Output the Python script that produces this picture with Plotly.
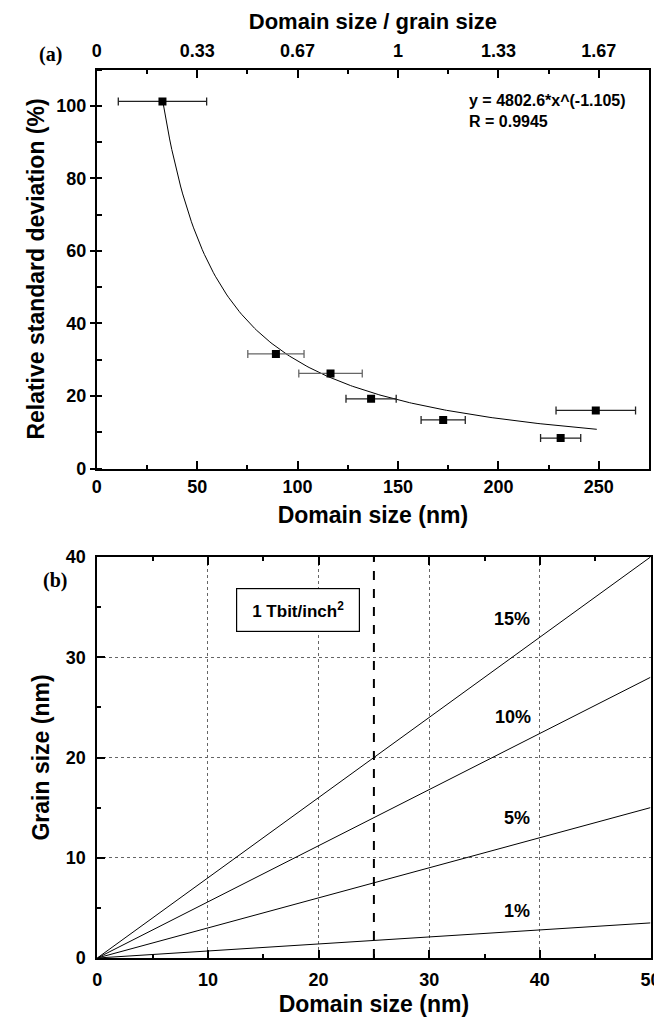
import plotly.graph_objects as go

# ---------------- Panel (a) data ----------------
domain_size = [32.7, 89.2, 116.4, 136.6, 172.5, 231.0, 248.5]
rel_std = [101.2, 31.6, 26.2, 19.2, 13.4, 8.4, 16.0]
domain_err = [22.0, 14.0, 15.8, 12.5, 11.0, 10.0, 19.8]
err_colors = ["#222222", "#666666", "#666666", "#222222", "#222222", "#222222", "#222222"]

FIT_A = 4802.6
FIT_B = -1.105
FIT_R = 0.9945
FIT_X_START = 33
FIT_X_END = 249
FIT_N = 200

GRAIN_SIZE_REF = 150  # top axis = domain size / 150 nm
bottom_ticks_a = [0, 50, 100, 150, 200, 250]
top_tick_labels = ["0", "0.33", "0.67", "1", "1.33", "1.67"]
y_ticks_a = [0, 20, 40, 60, 80, 100]

# ---------------- Panel (b) data ----------------
line_labels = ["15%", "10%", "5%", "1%"]
line_x = [0, 50]
line_end_y = [40, 28, 15, 3.5]
label_x = [37.5, 37.6, 37.9, 37.9]
label_y = [33.8, 24.0, 14.0, 4.65]
density_domain = 25
b_x_ticks = [0, 10, 20, 30, 40, 50]
b_y_ticks = [0, 10, 20, 30, 40]

W, H = 662, 1021
SANS = "Liberation Sans, Arial, sans-serif"
SERIF = "Liberation Serif, Times New Roman, serif"

fit_x = [FIT_X_START + (FIT_X_END - FIT_X_START) * i / (FIT_N - 1) for i in range(FIT_N)]
fit_y = [FIT_A * x ** FIT_B for x in fit_x]

fig = go.Figure()

# fit curve
fig.add_trace(go.Scatter(x=fit_x, y=fit_y, mode="lines",
                         line=dict(color="black", width=1),
                         xaxis="x", yaxis="y", showlegend=False, hoverinfo="skip"))
# data points with x error bars (one trace per error-bar shade)
for shade in sorted(set(err_colors)):
    idx = [i for i, c in enumerate(err_colors) if c == shade]
    fig.add_trace(go.Scatter(x=[domain_size[i] for i in idx], y=[rel_std[i] for i in idx],
                             mode="markers",
                             marker=dict(symbol="square", size=8, color="black"),
                             error_x=dict(type="data", array=[domain_err[i] for i in idx],
                                          visible=True, color=shade, thickness=1.3, width=4),
                             xaxis="x", yaxis="y", showlegend=False))
# invisible trace so the top axis is drawn
fig.add_trace(go.Scatter(x=[0], y=[0], mode="markers", marker=dict(opacity=0),
                         xaxis="x3", yaxis="y", showlegend=False, hoverinfo="skip"))

# panel b lines
for ey in line_end_y:
    fig.add_trace(go.Scatter(x=line_x, y=[0, ey], mode="lines",
                             line=dict(color="black", width=1),
                             xaxis="x2", yaxis="y2", showlegend=False, hoverinfo="skip"))
fig.add_trace(go.Scatter(x=[density_domain, density_domain], y=[0, 40], mode="lines",
                         line=dict(color="black", width=2, dash="dash"),
                         xaxis="x2", yaxis="y2", showlegend=False, hoverinfo="skip"))

tickfont = dict(family=SANS, size=18, color="black", weight="bold")
titlefont = dict(family=SANS, size=23, color="black", weight="bold")

dom_a_x = [88.8 / W, 641 / W]
dom_a_y = [1 - 460.5 / H, 1 - 61.5 / H]
dom_b_x = [89.3 / W, 642.5 / W]
dom_b_y = [1 - 950 / H, 1 - 549 / H]

common = dict(showline=True, linecolor="black", linewidth=2, zeroline=False,
              tickcolor="black", tickwidth=1.5, tickfont=tickfont)
grid_b = dict(showgrid=True, gridcolor="#666666", gridwidth=1, griddash="dot")
minor_common = dict(ticks="inside", tickcolor="black", tickwidth=1.5, tick0=0, showgrid=False)

fig.update_layout(
    width=W, height=H,
    margin=dict(l=0, r=0, t=0, b=0, autoexpand=False),
    paper_bgcolor="white", plot_bgcolor="white",
    xaxis=dict(domain=dom_a_x, range=[0, 275], anchor="y", tickvals=bottom_ticks_a,
               ticks="inside", ticklen=8, mirror=False, showgrid=False,
               minor=dict(ticklen=4, dtick=25, **minor_common),
               title=dict(text="Domain size (nm)", font=titlefont, standoff=11),
               ticklabelstandoff=1, **common),
    xaxis3=dict(range=[0, 275], overlaying="x", side="top", anchor="y",
                tickvals=bottom_ticks_a, ticktext=top_tick_labels,
                ticks="inside", ticklen=8, showgrid=False,
                minor=dict(ticklen=4, dtick=25, **minor_common),
                title=dict(text="Domain size / grain size",
                           font=dict(family=SANS, size=22, color="black", weight="bold"), standoff=6),
                ticklabelstandoff=3, **common),
    yaxis=dict(domain=dom_a_y, range=[0, 110], anchor="x", tickvals=y_ticks_a,
               ticks="outside", ticklen=5, mirror=True, showgrid=False,
               minor=dict(ticklen=5, dtick=10, **minor_common),
               title=dict(text="Relative standard deviation (%)", font=titlefont, standoff=5),
               **common),
    xaxis2=dict(domain=dom_b_x, range=[0, 50], anchor="y2", tickvals=b_x_ticks,
                ticks="inside", ticklen=8, mirror="ticks",
                minor=dict(ticklen=4, dtick=5, **minor_common),
                title=dict(text="Domain size (nm)", font=titlefont, standoff=7),
                ticklabelstandoff=4, **common, **grid_b),
    yaxis2=dict(domain=dom_b_y, range=[0, 40], anchor="x2", tickvals=b_y_ticks,
                ticks="inside", ticklen=8, mirror=True,
                minor=dict(ticklen=4, dtick=5, **minor_common),
                title=dict(text="Grain size (nm)", font=titlefont, standoff=10),
                ticklabelstandoff=6, **common, **grid_b),
)

annotations = [
    dict(text="(a)", x=29 / W, y=1 - 33 / H, xref="paper", yref="paper", showarrow=False,
         font=dict(family=SERIF, size=20, color="black", weight="bold")),
    dict(text="(b)", x=33 / W, y=1 - 572 / H, xref="paper", yref="paper", showarrow=False,
         font=dict(family=SERIF, size=20, color="black", weight="bold")),
    dict(text=f"y = {FIT_A}*x^({FIT_B})<br>R = {FIT_R}", x=264.5, y=98.5, xref="x", yref="y",
         xanchor="right", yanchor="middle", align="left", showarrow=False,
         font=dict(family=SANS, size=16, color="black", weight="bold")),
    dict(text="1 Tbit/inch<sup>2</sup>", x=18.1, y=34.7, xref="x2", yref="y2", showarrow=False,
         bordercolor="black", borderwidth=1.2, borderpad=3, width=116, height=36,
         bgcolor="white", font=dict(family=SANS, size=17, color="black", weight="bold")),
]
for lab, lx, ly in zip(line_labels, label_x, label_y):
    annotations.append(dict(text=lab, x=lx, y=ly, xref="x2", yref="y2", showarrow=False,
                            font=dict(family=SANS, size=18, color="black", weight="bold")))
fig.update_layout(annotations=annotations)

fig.write_html("out.html")
